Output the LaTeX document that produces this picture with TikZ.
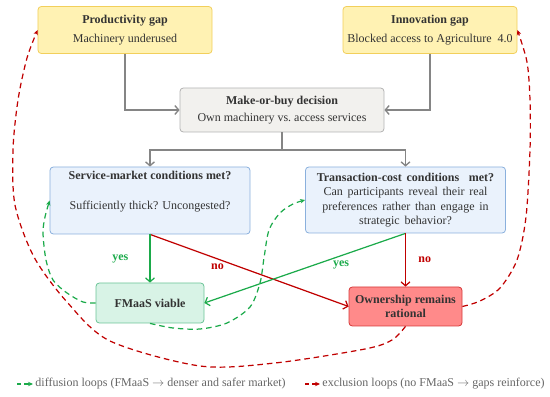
\documentclass[tikz,border=0pt]{standalone}
\usepackage{fontspec}
\setmainfont{Liberation Serif}
\usepackage{xcolor}
\usepackage{tikz}
\usetikzlibrary{arrows.meta, positioning, calc}
\definecolor{kuningisi}{HTML}{FFF2B3}
\definecolor{kuninggaris}{HTML}{F2CF5B}
\definecolor{abuisi}{HTML}{F2F1EE}
\definecolor{abugaris}{HTML}{B3B3B3}
\definecolor{panahabu}{HTML}{858585}
\definecolor{biruisi}{HTML}{EAF2FC}
\definecolor{birugaris}{HTML}{8AB0DD}
\definecolor{hijauisi}{HTML}{D8F3E6}
\definecolor{hijaugaris}{HTML}{6CC497}
\definecolor{hijautua}{HTML}{1BAA4A}
\definecolor{merahisi}{HTML}{FF8A8A}
\definecolor{merahgaris}{HTML}{D63A3A}
\definecolor{merahtua}{HTML}{C00000}
\definecolor{teksgelap}{HTML}{333333}
\definecolor{teksabu}{HTML}{666666}
\newcommand{\spasilebar}{\spaceskip=0.4em plus 0.1em minus 0.05em\relax}

\begin{document}
\begin{tikzpicture}[
    x=0.9pt, y=-0.9pt,
    font=\fontsize{10.8}{12.5}\selectfont,
    kotak/.style={draw, rounded corners=3pt, align=center, line width=0.7pt,
                  text=teksgelap, inner sep=2pt},
    kuning/.style={kotak, fill=kuningisi, draw=kuninggaris,
                   minimum width=156.6pt, minimum height=42.3pt},
    abu/.style={kotak, fill=abuisi, draw=abugaris,
                minimum width=183.6pt, minimum height=39.6pt},
    biru/.style={kotak, fill=biruisi, draw=birugaris, minimum width=180pt},
    hijau/.style={kotak, fill=hijauisi, draw=hijaugaris, font=\fontsize{10.8}{12.5}\selectfont\bfseries},
    merah/.style={kotak, fill=merahisi, draw=merahgaris, font=\fontsize{10.8}{12.5}\selectfont\bfseries},
    panah/.style={-{Straight Barb[length=3.5pt, width=8pt]}, line width=1.2pt, panahabu},
    panahhijau/.style={-{Straight Barb[length=3.5pt, width=8pt]}, line width=1.1pt, hijautua},
    panahmerah/.style={-{Straight Barb[length=3.5pt, width=8pt]}, line width=1.1pt, merahtua},
    putushijau/.style={-{Stealth[length=4.5pt, width=4pt]}, line width=1.1pt, hijautua,
                       dash pattern=on 5pt off 3.5pt},
    putusmerah/.style={-{Stealth[length=4.5pt, width=4pt]}, line width=1.1pt, merahtua,
                       dash pattern=on 5pt off 3.5pt},
    jawab/.style={font=\fontsize{10.8}{12.5}\selectfont\bfseries, inner sep=1pt},
    ket/.style={text=teksabu, inner sep=2pt}
  ]
    \useasboundingbox (0,0) rectangle (550,397);

    % kotak
    \node[kuning] (prod) at (125,30) {\textbf{Productivity gap}\\[4pt] Machinery underused};
    \node[kuning] (innov) at (430,30) {\textbf{Innovation gap}\\[4pt] Blocked access to Agriculture\ \ 4.0};
    \node[abu] (decide) at (282,110) {\textbf{Make-or-buy decision}\\[2.5pt] Own machinery vs.\ access services};
    \node[biru, minimum height=60.3pt] (svc) at (150,200.5) {};
    \node[inner sep=0pt, align=center, text=teksgelap, below=4pt of svc.north] (svcteks)
      {\textbf{Service-market conditions met?}\\[14pt] Sufficiently thick? Uncongested?};
    \node[biru, minimum height=59.4pt, font=\fontsize{10.8}{12.9}\selectfont\spasilebar] (trans) at (405.5,200)
      {\textbf{Transaction-cost conditions\ \ met?}\\ Can participants reveal their real\\
       preferences rather than engage in\\ strategic behavior?};
    \node[hijau, minimum width=97.2pt, minimum height=36pt] (viable) at (150,303) {FMaaS viable};
    \node[merah, minimum width=101.7pt, minimum height=35.1pt] (own) at (405.5,306.5)
      {Ownership remains\\ rational};

    % panah abu
    \draw[panah] (prod.south) |- (decide.west);
    \draw[panah] (innov.south) |- (decide.east);
    \coordinate (cabang) at (282,150);
    \draw[line width=1.2pt, panahabu] (decide.south) -- (cabang);
    \draw[panah] (cabang) -| (svc.north);
    \draw[panah] (cabang) -| (trans.north);

    % keputusan
    \draw[panahmerah] (svc.south) -- node[pos=0.34, below=3pt, jawab, text=merahtua] (tidak1) {no} (own.west);
    \draw[panahhijau] (svc.south) -- node[left=18pt, jawab, text=hijautua] (ya1) {yes} (viable.north);
    \draw[panahhijau] (trans.south) -- node[pos=0.32, below=3pt, jawab, text=hijautua] (ya2) {yes} (viable.east);
    \draw[panahmerah] (trans.south) -- node[right=10pt, jawab, text=merahtua] (tidak2) {no} (own.north);

    % lingkar difusi
    \draw[putushijau] plot[smooth] coordinates {(viable.west) (83,302) (67,293) (53,280)
      (46,260) (43,233) (45,217) (svc.west)};
    \draw[putushijau] plot[smooth] coordinates {(viable.south) (173,328) (200,329) (227,323)
      (250,307) (260,283) (264,258) (269,230) (280,213) (293,204) (trans.west)};

    % lingkar eksklusi
    \draw[putusmerah] plot[smooth] coordinates {(own.south) (392,340) (365,349) (275,363)
      (200,366) (110,341) (67,302) (34,257) (15,205) (13,150) (18,100) (27,58) (prod.west)};
    \draw[putusmerah] plot[smooth] coordinates {(own.east) (480,301) (500,288) (517,260)
      (526,217) (530,150) (530,100) (527,62) (innov.east)};

    % keterangan
    \coordinate (ekorhijau) at (17,384);
    \node[ket, anchor=west] (kethijau) at (33,384)
      {diffusion loops (FMaaS $\rightarrow$ denser and safer market)};
    \draw[putushijau, dash pattern=on 4pt off 2.5pt] (ekorhijau) -- (kethijau.west);
    \coordinate (ekormerah) at (305,384);
    \node[ket, anchor=west] (ketmerah) at (320,384)
      {exclusion loops (no FMaaS $\rightarrow$ gaps reinforce)};
    \draw[putusmerah, dash pattern=on 4pt off 2.5pt] (ekormerah) -- (ketmerah.west);
\end{tikzpicture}
\end{document}
